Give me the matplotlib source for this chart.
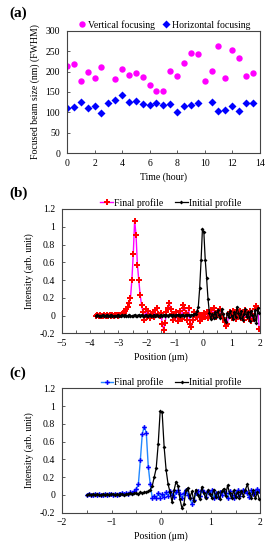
import numpy as np
import matplotlib
matplotlib.use("Agg")
import matplotlib.pyplot as plt
from matplotlib.ticker import MultipleLocator, FuncFormatter

plt.rcParams['font.family'] = ['Liberation Serif', 'DejaVu Serif']
plt.rcParams['mathtext.fontset'] = 'stix'

# (a) beam size vs time
time_vert = [0, 0.5, 1, 1.5, 2, 2.5, 3.5, 4, 4.5, 5, 5.5, 6, 6.5, 7, 7.5, 8, 8.5,
             9, 9.5, 10, 10.5, 11, 11.5, 12, 12.5, 13, 13.5]
size_vert = [214, 218, 177, 199, 185, 211, 182, 206, 192, 197, 186, 166, 153, 153,
             201, 188, 222, 245, 242, 177, 201, 263, 185, 252, 232, 189, 197]
time_horiz = [0, 0.5, 1, 1.5, 2, 2.5, 3, 3.5, 4, 4.5, 5, 5.5, 6, 6.5, 7, 7.5, 8,
              8.5, 9, 9.5, 10.5, 11, 11.5, 12, 12.5, 13, 13.5]
size_horiz = [111, 113, 125, 112, 116, 99, 123, 130, 142, 126, 127, 120, 118, 122,
              118, 120, 102, 115, 117, 124, 125, 104, 107, 116, 104, 124, 122]

# (b) profiles, sampled on a regular grid
b_start, b_step = -3.8, 0.049
final_b = [0.00, 0.01, 0.00, 0.01, 0.00, 0.00, 0.01, 0.00, 0.01, 0.00,
           0.01, 0.00, 0.01, 0.00, 0.01, 0.01, 0.00, 0.01, 0.01, 0.02,
           0.03, 0.05, 0.07, 0.10, 0.14, 0.20, 0.40, 0.69, 1.07, 0.91,
           0.57, 0.40, 0.23, 0.12, 0.04, -0.05, 0.07, -0.02, 0.05, -0.03,
           0.02, 0.04, -0.02, 0.06, 0.08, 0.02, -0.01, 0.03, -0.10, -0.16,
           -0.08, 0.04, 0.09, 0.14, 0.07, 0.02, -0.05, -0.02, 0.04, -0.06,
           0.01, 0.05, -0.04, 0.12, 0.09, 0.03, -0.05, 0.08, -0.09, -0.13,
           -0.05, 0.04, 0.00, -0.02, 0.03, -0.06, 0.01, -0.04, 0.03, -0.02,
           0.04, -0.03, 0.02, 0.06, 0.00, 0.09, 0.03, -0.02, 0.05, 0.01,
           0.07, 0.02, -0.03, -0.07, -0.12, -0.09, 0.01, 0.04, -0.03, 0.05,
           0.02, -0.04, 0.06, 0.01, 0.05, -0.03, 0.02, -0.05, 0.06, 0.03,
           -0.02, 0.05, -0.06, 0.02, -0.04, 0.07, 0.11, 0.08, -0.15]
initial_b = [0.00, 0.01, 0.00, -0.01, 0.00, 0.01, 0.00, 0.00, 0.01, 0.00,
             0.00, 0.01, 0.00, 0.00, -0.01, 0.00, 0.01, 0.00, 0.00, 0.01,
             0.00, 0.01, 0.00, 0.00, 0.01, 0.00, -0.01, 0.00, 0.01, 0.00,
             0.00, 0.01, 0.00, 0.01, 0.00, 0.00, 0.01, 0.00, 0.00, 0.01,
             0.00, 0.00, 0.01, 0.00, 0.01, 0.00, 0.00, 0.01, 0.00, 0.01,
             0.00, 0.01, 0.00, 0.01, 0.01, 0.00, 0.01, 0.00, 0.01, 0.01,
             0.01, 0.00, 0.01, 0.01, 0.00, 0.01, 0.01, 0.01, 0.00, 0.01,
             0.01, 0.02, 0.02, 0.05, 0.10, 0.31, 0.62, 0.98, 0.94, 0.63,
             0.42, 0.19, 0.03, -0.04, 0.02, -0.03, 0.04, -0.02, 0.06, 0.01,
             -0.03, 0.07, 0.02, -0.05, -0.07, 0.03, -0.02, 0.05, 0.00, -0.04,
             0.04, -0.02, 0.10, 0.03, -0.03, 0.05, -0.05, 0.02, 0.07, -0.02,
             0.04, -0.06, 0.05, 0.01, -0.05, 0.06, -0.08, 0.08, 0.03]

# (c) profiles
c_start, c_step = -1.5, 0.04
final_c = [0.00, 0.01, 0.00, 0.00, 0.01, 0.00, 0.01, 0.00, 0.00, 0.01,
           0.00, 0.01, 0.01, 0.00, 0.01, 0.00, 0.01, 0.01, 0.02, 0.01,
           0.02, 0.01, 0.03, 0.02, 0.04, 0.07, 0.12, 0.39, 0.69, 0.77,
           0.70, 0.32, 0.12, -0.03, -0.01, -0.04, 0.02, -0.03, 0.01, -0.02,
           0.03, -0.01, 0.04, 0.00, -0.02, 0.03, 0.05, 0.01, -0.04, 0.02,
           0.06, 0.00, -0.04, -0.10, -0.06, 0.02, 0.04, -0.01, 0.05, 0.03,
           -0.02, 0.04, 0.01, 0.05, -0.03, 0.02, -0.02, 0.03, 0.00, 0.04,
           0.02, -0.03, 0.04, 0.00, -0.04, 0.02, 0.05, -0.01, 0.03, 0.06,
           0.04, 0.02, -0.02, 0.05, 0.01, 0.03, 0.07, 0.04]
initial_c = [0.00, 0.01, 0.00, 0.01, 0.00, 0.01, 0.00, 0.00, 0.01, 0.00,
             0.01, 0.00, 0.01, 0.01, 0.00, 0.01, 0.00, 0.01, 0.01, 0.00,
             0.01, 0.01, 0.02, 0.01, 0.02, 0.02, 0.01, 0.03, 0.02, 0.03,
             0.03, 0.04, 0.06, 0.10, 0.20, 0.30, 0.57, 0.94, 0.93, 0.54,
             0.28, 0.12, 0.03, -0.08, 0.05, 0.15, 0.10, -0.05, -0.15, -0.10,
             0.05, 0.08, -0.03, 0.04, -0.07, 0.06, 0.00, -0.05, 0.09, 0.02,
             -0.04, 0.05, 0.01, -0.03, 0.06, -0.02, 0.03, -0.05, 0.04, 0.07,
             -0.01, 0.11, 0.02, -0.04, 0.05, -0.02, 0.03, -0.03, 0.04, -0.01,
             0.06, 0.12, 0.02, -0.03, 0.05, -0.04, 0.03, -0.05]

FS = 7
SPINE = '#444444'


def style_axes(ax):
    for s in ax.spines.values():
        s.set_color(SPINE)
        s.set_linewidth(0.8)
    ax.tick_params(which='both', direction='in', length=2.5, width=0.6,
                   labelsize=FS, top=False, right=False, colors=SPINE,
                   labelcolor='black')
    ax.tick_params(axis='y', pad=5)
    ax.tick_params(axis='x', pad=4)


fig = plt.figure(figsize=(2.73, 5.5), dpi=100)
fmt = FuncFormatter(lambda v, _: '{:g}'.format(round(v, 2)))

# ---- (a)
ax = fig.add_axes([0.2454, 0.7213, 0.7059, 0.2229])
ax.plot(time_vert, size_vert, 'o', color='#ff00ff', ms=4.6, mec='none',
        label='Vertical focusing')
ax.plot(time_horiz, size_horiz, 'D', color='#0000ff', ms=4.0, mec='none',
        label='Horizontal focusing')
ax.set_xlim(0, 14)
ax.set_ylim(0, 300)
ax.xaxis.set_major_locator(MultipleLocator(2))
ax.yaxis.set_major_locator(MultipleLocator(50))
style_axes(ax)
ax.set_xlabel('Time (hour)', fontsize=FS, labelpad=3)
ax.set_ylabel('Focused beam size (nm) (FWHM)', fontsize=FS, labelpad=4)
ax.legend(loc='lower center', bbox_to_anchor=(0.5, 0.97), ncol=2, frameon=False,
          fontsize=FS, handletextpad=0.0, columnspacing=0.6,
          handlelength=1.2, borderaxespad=0.1)
fig.text(0.035, 0.975, '(a)', fontsize=11, fontweight='bold', va='center')

# ---- (b)
xb = b_start + b_step * np.arange(len(final_b))
ax = fig.add_axes([0.2271, 0.394, 0.7242, 0.226])
ax.plot(xb, final_b, '-', color='#ff00ff', lw=1.0, marker='P', ms=3.8,
        mfc='#ff0000', mec='#ff0000', mew=0, label='Final profile', zorder=2)
ax.plot(xb, initial_b, '-', color='black', lw=0.9, marker='D', ms=2.0,
        mfc='black', mec='black', mew=0, label='Initial profile', zorder=3)
ax.set_xlim(-5, 2)
ax.set_ylim(-0.2, 1.2)
ax.xaxis.set_major_locator(MultipleLocator(1))
ax.xaxis.set_minor_locator(MultipleLocator(0.5))
ax.yaxis.set_major_locator(MultipleLocator(0.2))
ax.yaxis.set_major_formatter(fmt)
style_axes(ax)
ax.set_xlabel('Position (μm)', fontsize=FS, labelpad=3)
ax.set_ylabel('Intensity (arb. unit)', fontsize=FS, labelpad=4)
ax.legend(loc='lower center', bbox_to_anchor=(0.55, 0.97), ncol=2, frameon=False,
          fontsize=FS, handletextpad=0.1, columnspacing=1.2,
          handlelength=1.3, borderaxespad=0.1)
fig.text(0.035, 0.648, '(b)', fontsize=11, fontweight='bold', va='center')

# ---- (c)
xc = c_start + c_step * np.arange(len(final_c))
ax = fig.add_axes([0.2271, 0.0678, 0.7264, 0.2262])
ax.plot(xc, final_c, '-', color='#2288ff', lw=1.0, marker='P', ms=3.4,
        mfc='#0000ff', mec='#0000ff', mew=0, label='Final profile', zorder=2)
ax.plot(xc, initial_c, '-', color='black', lw=0.9, marker='D', ms=2.0,
        mfc='black', mec='black', mew=0, label='Initial profile', zorder=3)
ax.set_xlim(-2, 2)
ax.set_ylim(-0.2, 1.2)
ax.xaxis.set_major_locator(MultipleLocator(1))
ax.xaxis.set_minor_locator(MultipleLocator(0.5))
ax.yaxis.set_major_locator(MultipleLocator(0.2))
ax.yaxis.set_major_formatter(fmt)
style_axes(ax)
ax.set_xlabel('Position (μm)', fontsize=FS, labelpad=3)
ax.set_ylabel('Intensity (arb. unit)', fontsize=FS, labelpad=4)
ax.legend(loc='lower center', bbox_to_anchor=(0.55, 0.97), ncol=2, frameon=False,
          fontsize=FS, handletextpad=0.1, columnspacing=1.2,
          handlelength=1.3, borderaxespad=0.1)
fig.text(0.035, 0.321, '(c)', fontsize=11, fontweight='bold', va='center')

fig.savefig('out.png', dpi=100)
plt.close(fig)
